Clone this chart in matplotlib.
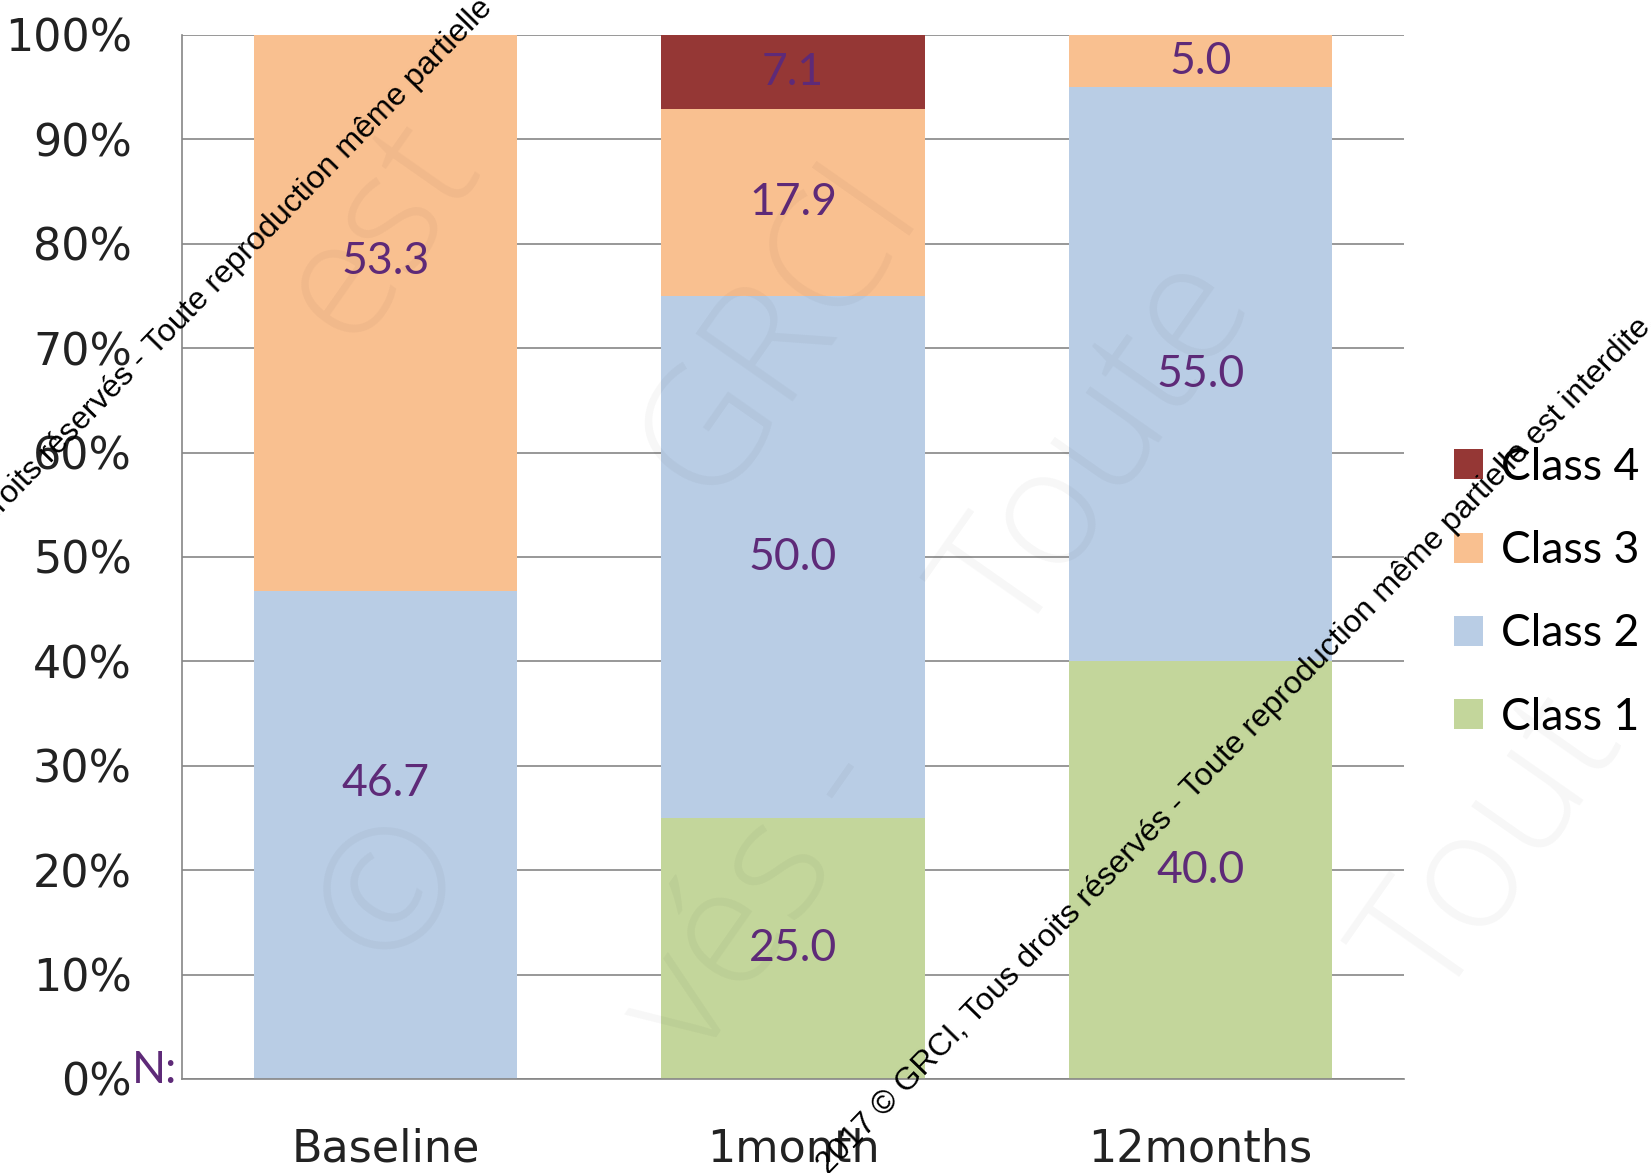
import numpy as np
import matplotlib.pyplot as plt
from matplotlib.patches import Patch

# data
categories = ['Baseline', '1month', '12months']
class1 = [0.0, 25.0, 40.0]
class2 = [46.7, 50.0, 55.0]
class3 = [53.3, 17.9, 5.0]
class4 = [0.0, 7.1, 0.0]
yticks = [0, 10, 20, 30, 40, 50, 60, 70, 80, 90, 100]

series = [('Class 1', class1, '#c3d69b'),
          ('Class 2', class2, '#b9cde5'),
          ('Class 3', class3, '#f9c090'),
          ('Class 4', class4, '#953735')]

W, H = 1651, 1173
fig = plt.figure(figsize=(W / 100, H / 100), dpi=100)
ax = fig.add_axes([182 / W, 1 - 1079 / H, (1404 - 182) / W, (1079 - 35) / H])

plt.rcParams['font.family'] = ['Lato', 'DejaVu Sans']
lab_col = '#5e2a78'
grid_col = '#868686'
fs = 32

x = np.arange(len(categories))
bottom = np.zeros(len(categories))
# baseline labels sit a bit higher in the original
nudge = [5.0, 0.0, 0.0]
for name, vals, col in series:
    vals = np.array(vals)
    ax.bar(x, vals, 0.646, bottom=bottom, color=col, edgecolor='none', zorder=2)
    for i, v in enumerate(vals):
        if v > 0:
            ax.text(x[i], bottom[i] + v / 2 + nudge[i], f'{v:.1f}', ha='center', va='center',
                    color=lab_col, fontsize=fs, family='Lato', zorder=5)
    bottom += vals

ax.set_xlim(-0.5, 2.5)
ax.set_ylim(0, 100)
ax.set_yticks(yticks)
ax.set_yticklabels([f'{t}%' for t in yticks])
ax.set_xticks(x)
ax.set_xticklabels(categories)
ax.tick_params(axis='y', length=0, pad=36, labelsize=fs, colors='#222222')
ax.tick_params(axis='x', length=0, pad=35, labelsize=fs, colors='#222222')
ax.yaxis.grid(True, color=grid_col, lw=1.2, zorder=0)
ax.set_axisbelow(True)
for s in ['top', 'right']:
    ax.spines[s].set_visible(False)
for s in ['left', 'bottom']:
    ax.spines[s].set_color(grid_col)
    ax.spines[s].set_linewidth(1.2)

ax.text(-0.004, -0.004, 'N:', transform=ax.transAxes, ha='right', va='baseline',
        color=lab_col, fontsize=fs)

handles = [Patch(facecolor=c, edgecolor='none') for _, _, c in series][::-1]
labels = [n for n, _, _ in series][::-1]
fig.legend(handles, labels, loc='center left', bbox_to_anchor=(0.8807, 0.495),
           frameon=False, fontsize=fs, handlelength=0.66, handleheight=0.66,
           handletextpad=0.39, labelspacing=0.95, borderpad=0, borderaxespad=0)

# faint background watermark (fragments)
faint = [
    (780, 330, 'GRCI'),
    (380, 230, 'est'),
    (1100, 450, 'Toute'),
    (395, 890, '©'),
    (1495, 850, 'Tout'),
    (760, 900, 'vés -'),
]
for px, py, txt in faint:
    fig.text(px / W, 1 - py / H, txt, ha='center', va='center', rotation=55,
             rotation_mode='anchor', fontsize=120, family='Open Sans', fontweight='light',
             color='black', alpha=0.035, zorder=10)

# copyright lines, split at "Toute" so the anchor matches the original
pre1, pre2 = 'droits réservés - ', '2017 © GRCI, Tous droits réservés - '
suf1 = 'Toute reproduction même partielle'
suf2 = 'Toute reproduction même partielle est interdite.'
for px, py, pre, suf in [(156, 356, pre1, suf1), (1193, 800, pre2, suf2)]:
    for txt, ha in [(pre, 'right'), (suf, 'left')]:
        fig.text(px / W, 1 - py / H, txt, ha=ha, va='baseline', rotation=45.8,
                 rotation_mode='anchor', fontsize=23, family='Liberation Sans',
                 color='black', zorder=11)

fig.savefig('out.png', dpi=100)
